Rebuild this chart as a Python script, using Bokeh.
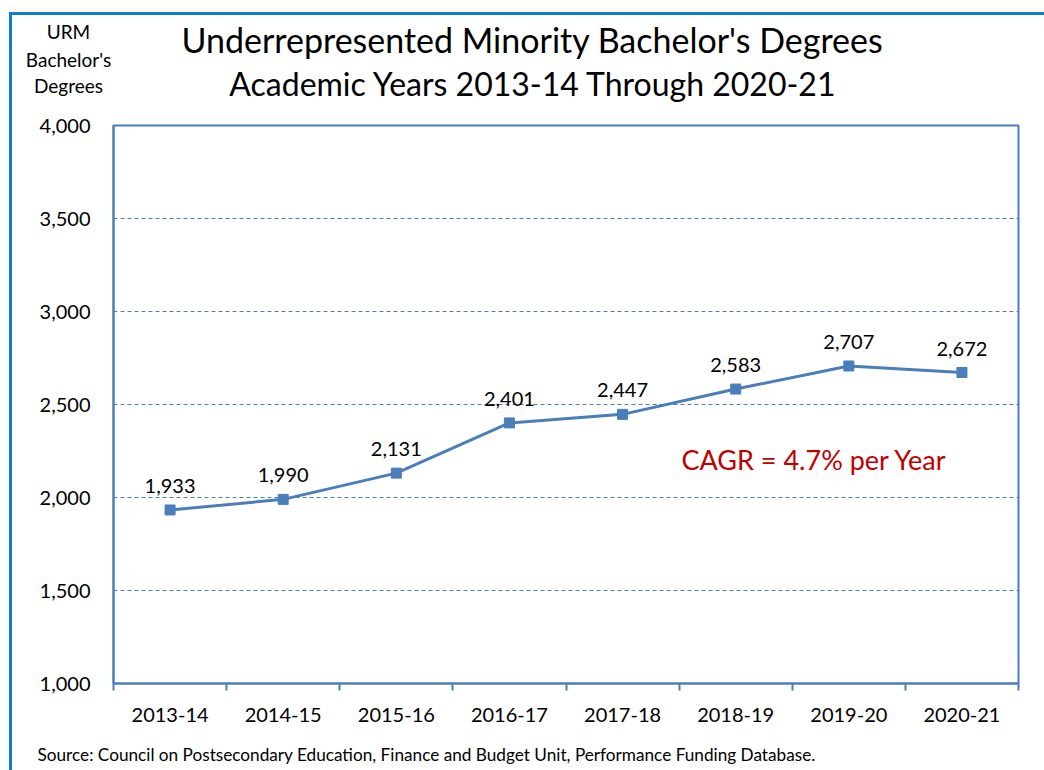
from bokeh.plotting import figure
from bokeh.layouts import column
from bokeh.models import (FixedTicker, NumeralTickFormatter, Label,
                          ColumnDataSource, Range1d)
from bokeh.embed import file_html
from bokeh.resources import INLINE
from bokeh.core.properties import value

# ---- data ----
years = ["2013-14", "2014-15", "2015-16", "2016-17", "2017-18", "2018-19", "2019-20", "2020-21"]
degrees = [1933, 1990, 2131, 2401, 2447, 2583, 2707, 2672]
y_ticks = [1000, 1500, 2000, 2500, 3000, 3500, 4000]
title_lines = ["Underrepresented Minority Bachelor's Degrees",
               "Academic Years 2013-14 Through 2020-21"]
y_title_lines = ["URM", "Bachelor's", "Degrees"]
cagr_text = "CAGR = 4.7% per Year"
source_text = "Source:  Council on Postsecondary Education, Finance and Budget Unit, Performance Funding Database."

FONT = "Lato"
BLUE = "#4A7EBB"
FRAME_BLUE = "#0B7FC7"
W = 1044


def text_panel(height):
    f = figure(width=W, height=height, output_backend="svg", toolbar_location=None,
               x_range=Range1d(0, 1), y_range=Range1d(0, 1),
               x_axis_location=None, y_axis_location=None,
               min_border=0, min_border_left=0, min_border_right=0,
               min_border_top=0, min_border_bottom=0)
    f.frame_align = False
    f.background_fill_alpha = 0
    f.border_fill_alpha = 0
    f.outline_line_color = None
    f.grid.visible = False
    return f


def add_label(f, x, y, text, size, align="center", color="black"):
    f.add_layout(Label(x=x, y=y, x_units="screen", y_units="screen", text=text,
                       text_font=FONT, text_font_size=size, text_align=align,
                       text_baseline="middle", text_color=color))


# ---- top panel: titles ----
top = text_panel(105)
add_label(top, 532, 66, title_lines[0], "34px")
add_label(top, 533, 22, title_lines[1], "32px")
for yy, t in zip([74, 46.5, 20], y_title_lines):
    add_label(top, 68, yy, t, "19px")

# ---- main chart ----
xs = [i + 0.5 for i in range(len(years))]
src = ColumnDataSource(dict(x=xs, y=degrees, lab=[f"{v:,}" for v in degrees]))

p = figure(width=W, height=630, output_backend="svg", toolbar_location=None,
           x_range=Range1d(0, len(years)), y_range=Range1d(y_ticks[0], y_ticks[-1]),
           min_border_left=113, min_border_right=26, min_border_top=20, min_border_bottom=52)
p.frame_align = False
p.background_fill_color = "white"
p.border_fill_alpha = 0
p.outline_line_color = BLUE
p.outline_line_width = 2

xa = p.xaxis[0]
xa.ticker = FixedTicker(ticks=xs, minor_ticks=list(range(len(years) + 1)))
xa.major_label_overrides = {x: yr for x, yr in zip(xs, years)}
xa.major_tick_line_color = None
xa.major_tick_out = 0
xa.major_tick_in = 0
xa.minor_tick_line_color = BLUE
xa.minor_tick_line_width = 2
xa.minor_tick_out = 7
xa.minor_tick_in = 0
xa.axis_line_color = BLUE
xa.axis_line_width = 2
xa.major_label_text_font = FONT
xa.major_label_text_font_size = "20px"
xa.major_label_text_color = "black"
xa.major_label_standoff = 17

ya = p.yaxis[0]
ya.ticker = FixedTicker(ticks=y_ticks, minor_ticks=[])
ya.formatter = NumeralTickFormatter(format="0,0")
ya.major_tick_line_color = None
ya.major_tick_out = 0
ya.major_tick_in = 0
ya.minor_tick_line_color = None
ya.axis_line_color = BLUE
ya.axis_line_width = 2
ya.major_label_text_font = FONT
ya.major_label_text_font_size = "20px"
ya.major_label_text_color = "black"
ya.major_label_standoff = 23

p.xgrid.grid_line_color = None
p.ygrid.ticker = FixedTicker(ticks=y_ticks)
p.ygrid.grid_line_color = BLUE
p.ygrid.grid_line_dash = "4 3"
p.ygrid.grid_line_width = 1

p.line("x", "y", source=src, line_color=BLUE, line_width=3)
p.scatter("x", "y", source=src, marker="square", size=10, fill_color=BLUE, line_color=BLUE)
p.text("x", "y", text="lab", source=src, text_font=value(FONT), text_font_size="20px",
       text_align="center", text_baseline="middle", y_offset=-24, text_color="black")

p.add_layout(Label(x=568, y=224, x_units="screen", y_units="screen", text=cagr_text,
                   text_font=FONT, text_font_size="27px", text_align="left",
                   text_baseline="middle", text_color="#C00000"))

# ---- bottom panel: source ----
bottom = text_panel(35)
add_label(bottom, 37, 16.5, source_text, "17.2px", align="left")

frame_line = f"linear-gradient({FRAME_BLUE},{FRAME_BLUE})"
layout = column(top, p, bottom, spacing=0)
layout.styles = {
    "background": (f"{frame_line} 9px 12px / 3px calc(100% - 12px) no-repeat, "
                   f"{frame_line} 9px 12px / calc(100% - 9px) 3px no-repeat, white"),
}

open("out.html", "w").write(file_html(layout, INLINE))
